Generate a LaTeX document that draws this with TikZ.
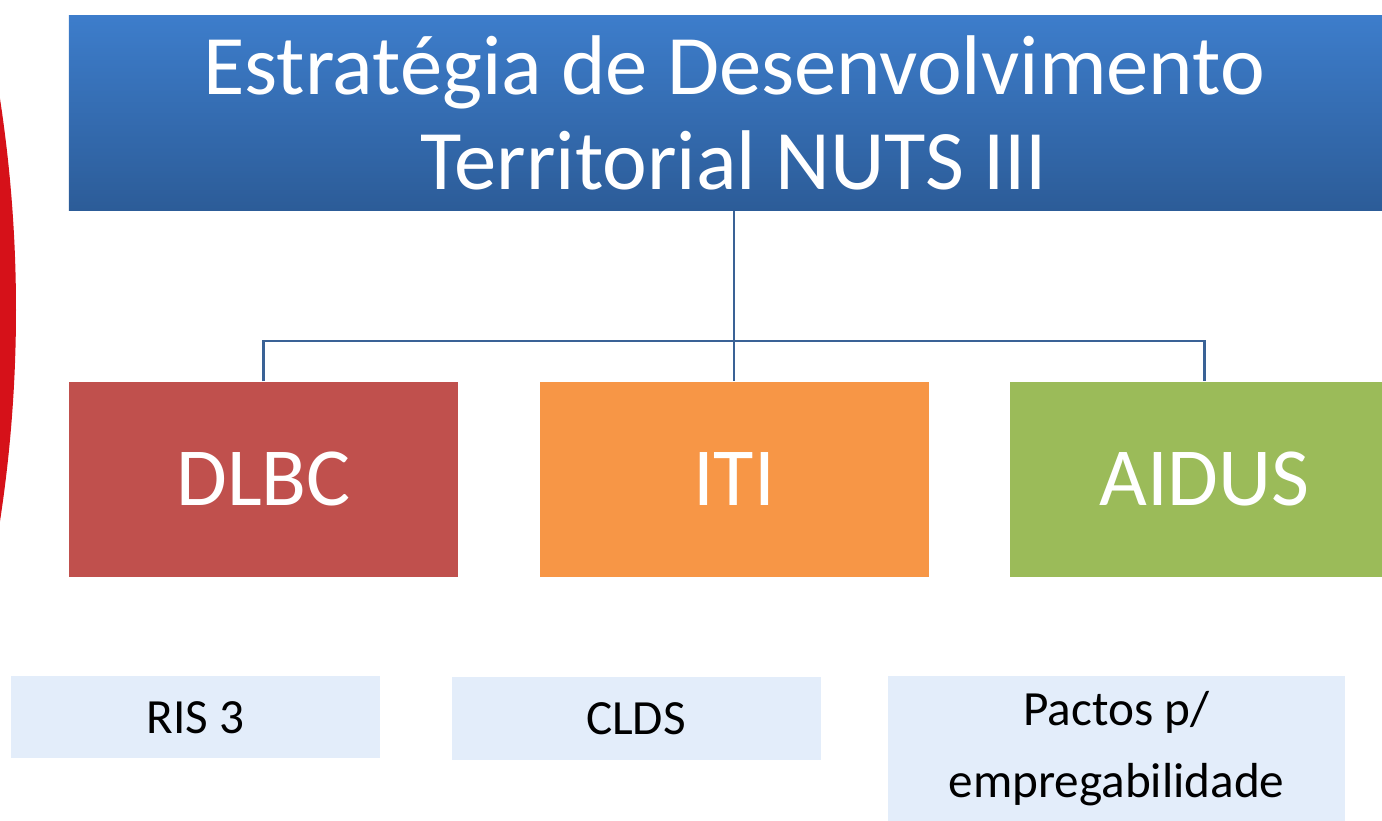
\documentclass[tikz,border=0pt]{standalone}
\usepackage{fontspec}
\setmainfont{Carlito}
\usetikzlibrary{calc}
\definecolor{titletop}{RGB}{61,125,203}
\definecolor{titlebot}{RGB}{44,92,152}
\definecolor{dlbcred}{RGB}{192,80,77}
\definecolor{itiorange}{RGB}{247,150,70}
\definecolor{aidusgreen}{RGB}{155,187,89}
\definecolor{subblue}{RGB}{227,237,250}
\definecolor{linkblue}{RGB}{58,98,150}
\definecolor{arcred}{RGB}{214,17,25}

\begin{document}
\begin{tikzpicture}
    % title box
    \tikzstyle{title}=[inner sep=0, minimum width=13.3cm, minimum height=1.95cm, top color=titletop, bottom color=titlebot, text=white, align=center, font=\fontsize{24.1}{26.8}\selectfont]
    % coloured boxes
    \tikzstyle{tool}=[inner sep=0, minimum width=3.89cm, minimum height=1.95cm, text=white, font=\fontsize{23.5}{28}\selectfont]
    % pale boxes
    \tikzstyle{sub}=[inner sep=0, minimum width=3.69cm, minimum height=0.82cm, fill=subblue, align=center, font=\fontsize{14}{20.3}\selectfont]
    \tikzstyle{link}=[draw=linkblue, line width=0.6pt]
    \useasboundingbox (0,0) rectangle (13.82,8.21);
    \begin{scope}
        \clip (0,0) rectangle (13.82,8.21);
        % red arc at the left border
        \fill[arcred] (-13.70,5.11) circle (13.86);
        \node[title] (estrat) at (7.34,7.08) {Estratégia de Desenvolvimento\\Territorial NUTS III};
        \node[tool, fill=dlbcred] (dlbc) at (2.635,3.415) {DLBC};
        \node[tool, fill=itiorange] (iti) at (7.34,3.415) {ITI};
        \node[tool, fill=aidusgreen] (aidus) at (12.045,3.415) {AIDUS};
        \node[sub] (ris) at (1.955,1.035) {RIS 3};
        \node[sub, minimum height=0.83cm] (clds) at (6.36,1.025) {CLDS};
        \node[sub, minimum width=4.57cm, minimum height=1.45cm] (pactos) at (11.165,0.725) {Pactos p/\\empregabilidade};
        % connectors
        \coordinate (bus) at (7.34,4.80);
        \draw[link] (estrat.south) -- (bus);
        \draw[link] (dlbc.north) |- (bus) -| (aidus.north);
        \draw[link] (bus) -- (iti.north);
    \end{scope}
\end{tikzpicture}
\end{document}
